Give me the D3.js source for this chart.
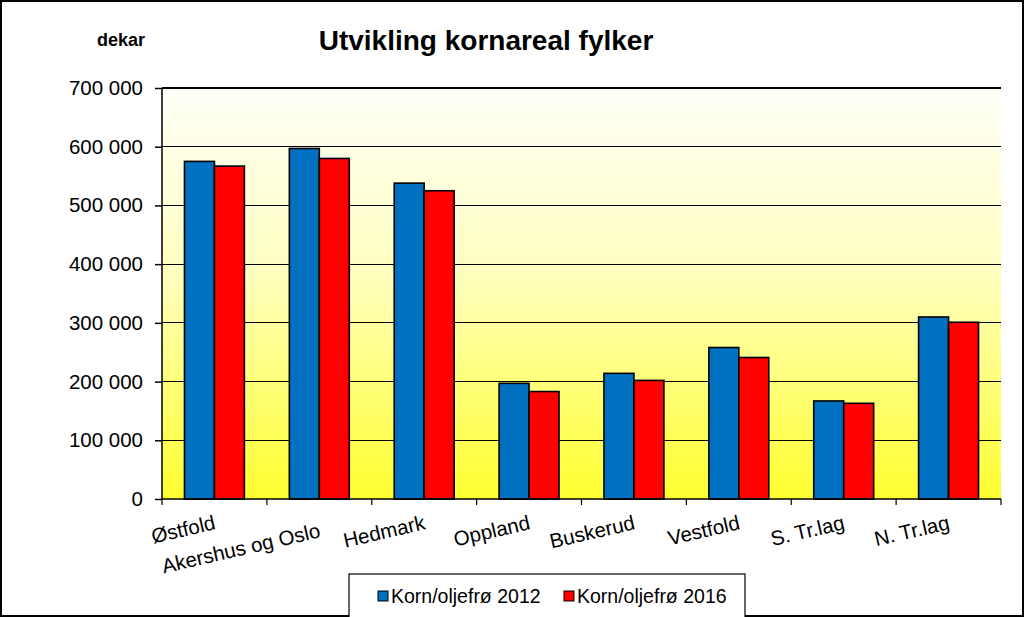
<!DOCTYPE html>
<html><head><meta charset="utf-8">
<script src="https://cdn.jsdelivr.net/npm/d3@7"></script>
<style>body{margin:0;background:#fff}svg{display:block;font-family:"Liberation Sans",Arial,sans-serif}</style>
</head><body><svg id="c" width="1024" height="617"></svg>
<script>
const categories = ["Østfold","Akershus og Oslo","Hedmark","Oppland","Buskerud","Vestfold","S. Tr.lag","N. Tr.lag"];
const series2012 = [575000, 597000, 538000, 197000, 214000, 258000, 167000, 310000];
const series2016 = [567000, 580000, 525000, 183000, 202000, 241000, 163000, 301000];
const seriesNames = ["Korn/oljefrø 2012","Korn/oljefrø 2016"];
const seriesColors = ["#0070C0","#FF0000"];
const yTicks = [0,100000,200000,300000,400000,500000,600000,700000];

const svg = d3.select("#c");
const m = {l:162, r:1001, t:88, b:499};
const x = d3.scaleBand().domain(categories).range([m.l,m.r]).paddingInner(1.5/3.5).paddingOuter(0.75/3.5*1);
const x0 = d3.scaleBand().domain(categories).range([m.l,m.r]);
const xs = d3.scaleBand().domain([0,1]).range([0,x.bandwidth()]);
const y = d3.scaleLinear().domain([0,700000]).range([m.b,m.t]);

const defs = svg.append("defs");
const g = defs.append("linearGradient").attr("id","bg").attr("x1",0).attr("y1",0).attr("x2",0).attr("y2",1);
g.append("stop").attr("offset","0%").attr("stop-color","#FFFFF8");
g.append("stop").attr("offset","45%").attr("stop-color","#FFFFC0");
g.append("stop").attr("offset","100%").attr("stop-color","#FFFF30");

svg.append("rect").attr("x",1).attr("y",1).attr("width",1022).attr("height",615).attr("fill","#fff").attr("stroke","#000").attr("stroke-width",2);

svg.append("rect").attr("x",m.l).attr("y",m.t).attr("width",m.r-m.l).attr("height",m.b-m.t).attr("fill","url(#bg)");

// gridlines
svg.append("g").selectAll("line").data(yTicks.slice(1)).join("line")
  .attr("x1",m.l).attr("x2",m.r).attr("y1",d=>y(d)).attr("y2",d=>y(d))
  .attr("stroke","#000").attr("stroke-width",1.2).attr("shape-rendering","crispEdges");

// bars
const data = categories.map((c,i)=>({c, v:[series2012[i],series2016[i]]}));
const grp = svg.append("g").selectAll("g").data(data).join("g").attr("transform",d=>`translate(${x(d.c)},0)`);
grp.selectAll("rect").data(d=>d.v.map((v,k)=>({v,k}))).join("rect")
  .attr("x",d=>xs(d.k)).attr("width",xs.bandwidth()).attr("y",d=>y(d.v)).attr("height",d=>y(0)-y(d.v))
  .attr("fill",d=>seriesColors[d.k]).attr("stroke","#000").attr("stroke-width",1.6);

// y axis
const ya = d3.axisLeft(y).tickValues(yTicks).tickSize(7).tickPadding(12)
  .tickFormat(d=>d3.format(",")(d).replace(/,/g," "));
const yg = svg.append("g").attr("transform",`translate(${m.l},0)`).call(ya);
yg.select(".domain").remove();
yg.append("line").attr("x1",0).attr("x2",0).attr("y1",m.t).attr("y2",m.b).attr("stroke","#000").attr("stroke-width",1.5);
yg.selectAll("line").attr("stroke","#000").attr("stroke-width",1.5);
yg.selectAll("text").attr("font-size",20.5).attr("fill","#000").attr("font-family","'Liberation Sans',Arial,sans-serif");

// x axis
const xg = svg.append("g");
xg.append("line").attr("x1",m.l).attr("x2",m.r).attr("y1",m.b).attr("y2",m.b).attr("stroke","#000").attr("stroke-width",1.5);
const bounds = categories.map(c=>x0(c)).concat([m.r]);
xg.selectAll("line.t").data(bounds).join("line").attr("class","t")
  .attr("x1",d=>d).attr("x2",d=>d).attr("y1",m.b).attr("y2",m.b+6).attr("stroke","#000").attr("stroke-width",1.2);
const labOff = {"Akershus og Oslo":8};
xg.selectAll("text").data(categories).join("text")
  .attr("transform",d=>`translate(${x0(d)+x0.bandwidth()/2+2},${529+(labOff[d]||0)}) rotate(-13)`)
  .attr("text-anchor","end").attr("font-size",20.5).text(d=>d);

// title
svg.append("text").attr("x",486).attr("y",50).attr("text-anchor","middle").attr("font-size",28).attr("font-weight","bold").text("Utvikling kornareal fylker");
svg.append("text").attr("x",145).attr("y",46).attr("text-anchor","end").attr("font-size",18).attr("font-weight","bold").text("dekar");

// legend
const lg = svg.append("g");
lg.append("rect").attr("x",349).attr("y",574).attr("width",396).attr("height",48).attr("fill","#fff").attr("stroke","#000").attr("stroke-width",1.2);
const li = lg.selectAll("g").data(seriesNames).join("g").attr("transform",(d,i)=>`translate(${378+i*186},596)`);
li.append("rect").attr("x",0).attr("y",-5).attr("width",10).attr("height",10).attr("fill",(d,i)=>seriesColors[i]).attr("stroke","#000").attr("stroke-width",1);
li.append("text").attr("x",13).attr("y",7).attr("font-size",19.5).text(d=>d);
</script></body></html>
